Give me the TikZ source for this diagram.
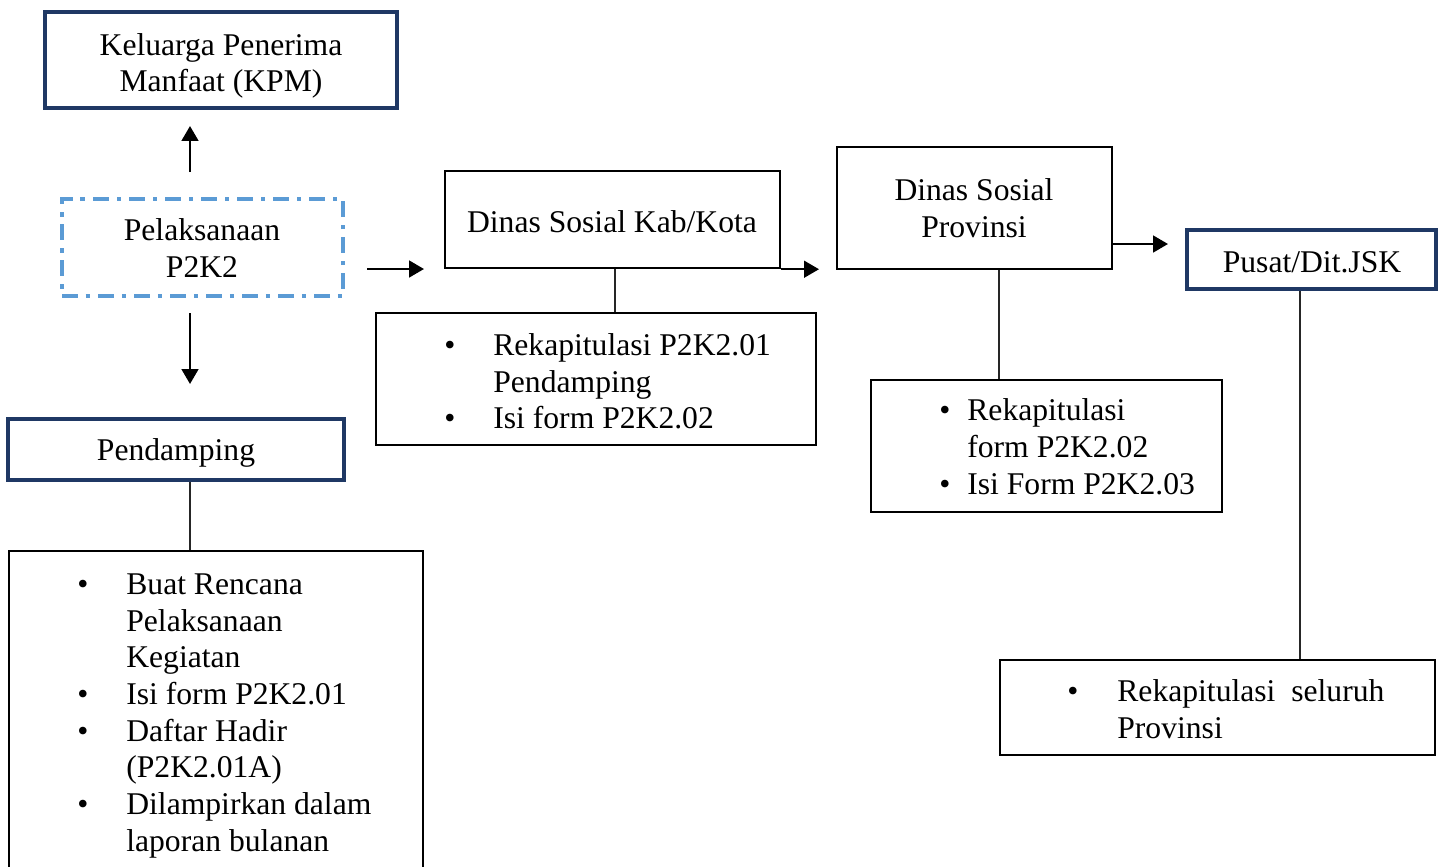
\documentclass[tikz,border=0pt]{standalone}
\usepackage{fontspec}
\setmainfont{Liberation Serif}
\usetikzlibrary{arrows.meta}
\definecolor{navy}{HTML}{1F3864}
\definecolor{dashblue}{HTML}{5B9BD5}
\tikzset{
  navybox/.style={draw=navy, line width=2.1pt, inner sep=0pt},
  blackbox/.style={draw=black, line width=1.4pt, inner sep=0pt},
  dashbox/.style={draw=dashblue, line width=2pt, inner sep=0pt,
     dash pattern=on 9pt off 4.5pt on 2.5pt off 4.5pt},
  txt/.style={inner sep=0pt, anchor=base, font=\fontsize{18}{21}\selectfont},
  ltxt/.style={inner sep=0pt, anchor=base west, font=\fontsize{18}{21}\selectfont},
  arr/.style={line width=1.4pt, -{Triangle[length=8.5pt, width=9.5pt]}},
  conn/.style={line width=0.7pt, draw=black!85}
}
\begin{document}
\begin{tikzpicture}[x=0.02cm, y=-0.02cm]
\useasboundingbox (0,0) rectangle (1446,866);
% boxes
\node[navybox, minimum width=7.04cm, minimum height=1.92cm] (kpm) at (221,60) {};
\node[dashbox, minimum width=5.62cm, minimum height=1.94cm] (pel) at (202.5,247.5) {};
\node[navybox, minimum width=6.72cm, minimum height=1.22cm] (pend) at (176,449.5) {};
\node[blackbox, minimum width=8.28cm, minimum height=6.58cm] (pendlist) at (216,715.5) {};
\node[blackbox, minimum width=6.70cm, minimum height=1.94cm] (kab) at (612.5,219.5) {};
\node[blackbox, minimum width=8.80cm, minimum height=2.64cm] (kablist) at (596,379) {};
\node[blackbox, minimum width=5.50cm, minimum height=2.44cm] (prov) at (974.5,208) {};
\node[blackbox, minimum width=7.02cm, minimum height=2.64cm] (provlist) at (1046.5,446) {};
\node[navybox, minimum width=4.98cm, minimum height=1.18cm] (pusat) at (1311.5,259.5) {};
\node[blackbox, minimum width=8.70cm, minimum height=1.90cm] (pusatlist) at (1217.5,707.5) {};

% box texts
\node[txt] (kpm1) at (221,55) {Keluarga Penerima};
\node[txt] (kpm2) at (221,91) {Manfaat (KPM)};
\node[txt] (pel1) at (202,240) {Pelaksanaan};
\node[txt] (pel2) at (202,277) {P2K2};
\node[txt] (pend1) at (176,460) {Pendamping};
\node[txt] (kab1) at (612,232) {Dinas Sosial Kab/Kota};
\node[txt] (prov1) at (974,200) {Dinas Sosial};
\node[txt] (prov2) at (974,237) {Provinsi};
\node[txt] (pusat1) at (1312,272) {Pusat/Dit.JSK};

% Pendamping list
\node[txt] (pb1) at (83,594) {•};
\node[ltxt] (pt1) at (126,594) {Buat Rencana};
\node[ltxt] (pt2) at (126,631) {Pelaksanaan};
\node[ltxt] (pt3) at (126,667) {Kegiatan};
\node[txt] (pb2) at (83,704) {•};
\node[ltxt] (pt4) at (126,704) {Isi form P2K2.01};
\node[txt] (pb3) at (83,741) {•};
\node[ltxt] (pt5) at (126,741) {Daftar Hadir};
\node[ltxt] (pt6) at (126,777) {(P2K2.01A)};
\node[txt] (pb4) at (83,814) {•};
\node[ltxt] (pt7) at (126,814) {Dilampirkan dalam};
\node[ltxt] (pt8) at (126,851) {laporan bulanan};

% Kab list
\node[txt] (kb1) at (450,355) {•};
\node[ltxt] (kt1) at (493,355) {Rekapitulasi P2K2.01};
\node[ltxt] (kt2) at (493,392) {Pendamping};
\node[txt] (kb2) at (450,428) {•};
\node[ltxt] (kt3) at (493,428) {Isi form P2K2.02};

% Prov list
\node[txt] (vb1) at (945,420) {•};
\node[ltxt] (vt1) at (967,420) {Rekapitulasi};
\node[ltxt] (vt2) at (967,457) {form P2K2.02};
\node[txt] (vb2) at (945,494) {•};
\node[ltxt] (vt3) at (967,494) {Isi Form P2K2.03};

% Pusat list
\node[txt] (ub1) at (1073,701) {•};
\node[ltxt] (ut1) at (1117,701) {Rekapitulasi\ \ seluruh};
\node[ltxt] (ut2) at (1117,738) {Provinsi};

% connectors
\coordinate (upS) at (190,172);
\coordinate (upE) at (190,126);
\coordinate (dnS) at (190,313);
\coordinate (dnE) at (190,384);
\coordinate (rS) at (367,269);
\coordinate (rE) at (424,269);
\coordinate (kpE) at (819,269);
\coordinate (ppY) at (1112,244);
\coordinate (ppE) at (1168,244);
\coordinate (l1) at (190,0);
\coordinate (l2) at (615,0);
\coordinate (l3) at (999,0);
\coordinate (l4) at (1300,0);

\draw[arr] (upS) -- (upE);
\draw[arr] (dnS) -- (dnE);
\draw[arr] (rS) -- (rE);
\draw[arr] (kab.south east) -- (kab.south east -| kpE);
\draw[arr] (prov.east |- ppY) -- (ppE);

\draw[conn] (pend.south -| l1) -- (pendlist.north -| l1);
\draw[conn] (kab.south -| l2) -- (kablist.north -| l2);
\draw[conn] (prov.south -| l3) -- (provlist.north -| l3);
\draw[conn] (pusat.south -| l4) -- (pusatlist.north -| l4);
\end{tikzpicture}
\end{document}
